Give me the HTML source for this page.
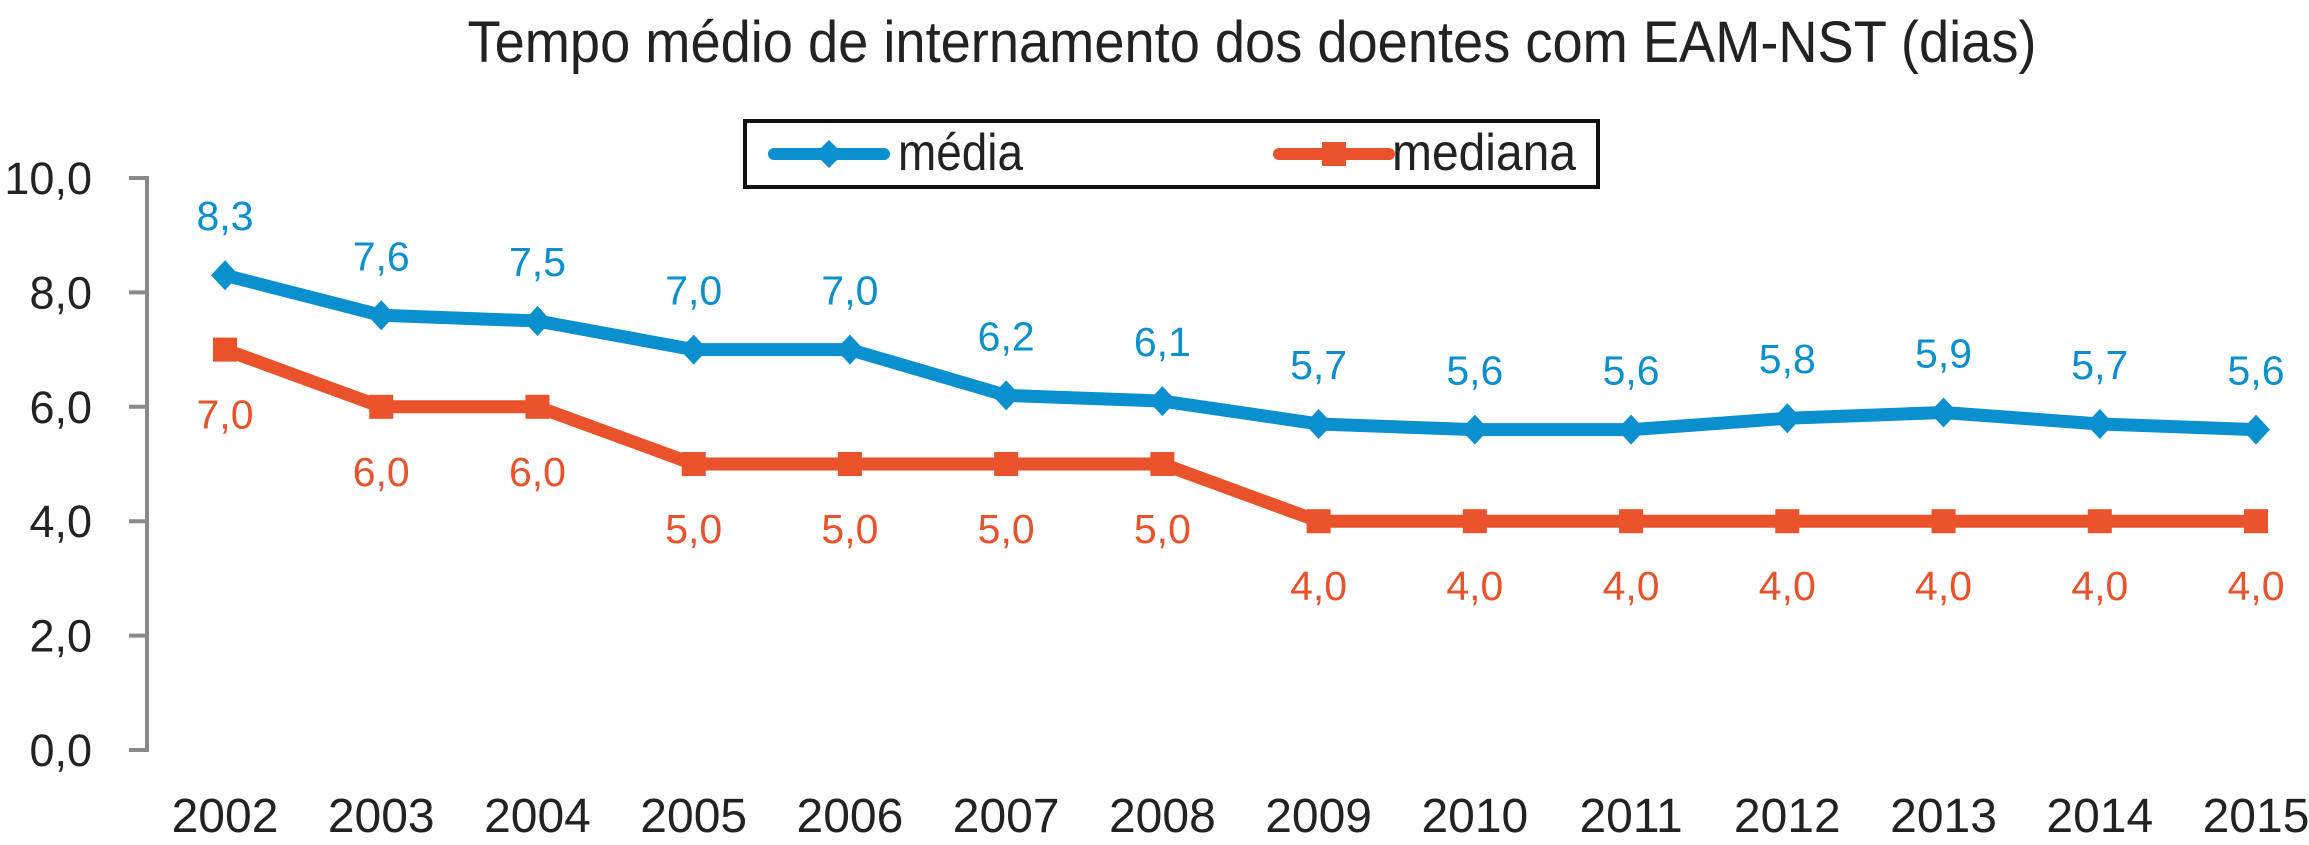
<!DOCTYPE html>
<html><head><meta charset="utf-8"><style>
html,body{margin:0;padding:0;background:#fff;}
svg{display:block;font-family:"Liberation Sans",sans-serif;}
</style></head><body>
<svg id="chart" width="2309" height="845" viewBox="0 0 2309 845" xmlns="http://www.w3.org/2000/svg">
<text x="1252" y="62" text-anchor="middle" font-size="58" textLength="1569" lengthAdjust="spacingAndGlyphs" fill="#222">Tempo médio de internamento dos doentes com EAM-NST (dias)</text>
<g>
<rect x="745" y="121" width="853" height="66" fill="#fff" stroke="#111" stroke-width="4"/>
<g>
<line x1="774" y1="154" x2="884" y2="154" stroke="#0a8fcf" stroke-width="12" stroke-linecap="round"/>
<polygon points="829,140 843,154 829,168 815,154" fill="#0a8fcf"/>
<text x="898" y="170" font-size="52" textLength="125" lengthAdjust="spacingAndGlyphs" fill="#222">média</text>
</g>
<g>
<line x1="1279" y1="154" x2="1389" y2="154" stroke="#e9522a" stroke-width="12" stroke-linecap="round"/>
<rect x="1322" y="142" width="24" height="24" fill="#e9522a"/>
<text x="1392" y="170" font-size="52" textLength="184" lengthAdjust="spacingAndGlyphs" fill="#222">mediana</text>
</g>
</g>
<g id="axes"></g>
<g id="series"></g>
</svg>
<script>
const years = ["2002","2003","2004","2005","2006","2007","2008","2009","2010","2011","2012","2013","2014","2015"];
const mediaValues = [8.3,7.6,7.5,7.0,7.0,6.2,6.1,5.7,5.6,5.6,5.8,5.9,5.7,5.6];
const medianaValues = [7.0,6.0,6.0,5.0,5.0,5.0,5.0,4.0,4.0,4.0,4.0,4.0,4.0,4.0];
const yTicks = [0,2,4,6,8,10];
const yTickLabels = ["0,0","2,0","4,0","6,0","8,0","10,0"];

const NS = "http://www.w3.org/2000/svg";
const x0 = 225, x1 = 2256, yBase = 750, yTop = 178, yMax = 10;
function xs(i){ return x0 + (x1 - x0) * i / (years.length - 1); }
function ys(v){ return yBase - (yBase - yTop) * v / yMax; }
function mk(tag, attrs, parent){ const e = document.createElementNS(NS, tag); for (const k in attrs) e.setAttribute(k, attrs[k]); parent.appendChild(e); return e; }
function fmt(v){ return v.toFixed(1).replace('.', ','); }

const axes = document.getElementById('axes');
const yAxis = mk('line', {x1:147, y1:ys(10), x2:147, y2:ys(0), stroke:'#8a8a8a', 'stroke-width':4}, axes);


yTicks.forEach((t, i) => {
  const tk = mk('line', {x1:129, y1:ys(t), x2:149, y2:ys(t), stroke:'#8a8a8a', 'stroke-width':4}, axes);
  
  
  const lb = mk('text', {x:92, y:ys(t) + 16, 'text-anchor':'end', 'font-size':45, fill:'#222'}, axes);
  lb.textContent = yTickLabels[i];
  
  
});
years.forEach((yr, i) => {
  const lb = mk('text', {x:xs(i), y:832, 'text-anchor':'middle', 'font-size':48, fill:'#222'}, axes);
  lb.textContent = yr;
  
  
});

const g = document.getElementById('series');
const mediaLine = mk('polyline', {points: mediaValues.map((v,i)=>xs(i)+','+ys(v)).join(' '), fill:'none', stroke:'#0a8fcf', 'stroke-width':13, 'stroke-linejoin':'round'}, g);


const medLine = mk('polyline', {points: medianaValues.map((v,i)=>xs(i)+','+ys(v)).join(' '), fill:'none', stroke:'#e9522a', 'stroke-width':13, 'stroke-linejoin':'round'}, g);



mediaValues.forEach((v, i) => {
  const x = xs(i), y = ys(v);
  const p = mk('polygon', {points:`${x},${y-15} ${x+14},${y} ${x},${y+15} ${x-14},${y}`, fill:'#0a8fcf'}, g);
  
  
  const t = mk('text', {x:x, y:y - 45, 'text-anchor':'middle', 'font-size':41, fill:'#0a8fcf'}, g);
  t.textContent = fmt(v);
  
  
});
medianaValues.forEach((v, i) => {
  const x = xs(i), y = ys(v);
  const r = mk('rect', {x:x-12, y:y-12, width:24, height:24, fill:'#e9522a'}, g);
  
  
  const t = mk('text', {x:x, y:y + 79, 'text-anchor':'middle', 'font-size':41, fill:'#e9522a'}, g);
  t.textContent = fmt(v);
  
  
});
</script>
</body></html>
